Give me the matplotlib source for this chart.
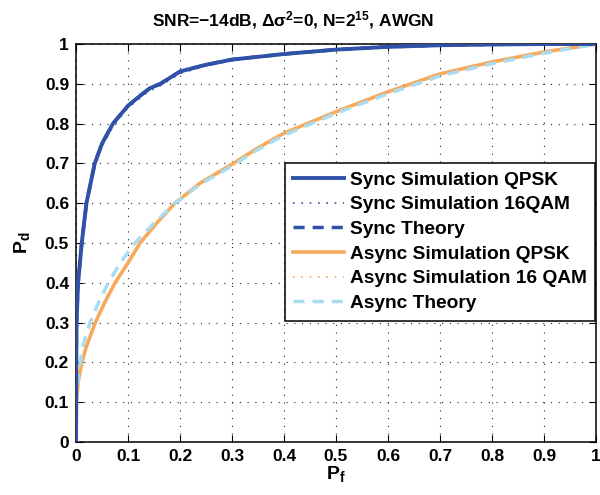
import numpy as np
import matplotlib
matplotlib.use("Agg")
import matplotlib.pyplot as plt
from matplotlib.ticker import FuncFormatter

plt.rcParams['font.family'] = ['Liberation Sans', 'DejaVu Sans']
plt.rcParams['font.weight'] = 'bold'
plt.rcParams['mathtext.fontset'] = 'custom'
plt.rcParams['mathtext.rm'] = 'Liberation Sans:bold'
plt.rcParams['mathtext.bf'] = 'Liberation Sans:bold'
plt.rcParams['mathtext.it'] = 'Liberation Sans:bold'
plt.rcParams['mathtext.default'] = 'bf'

# Sync curves
sync_pf = [0, 0.0005, 0.001, 0.004, 0.011, 0.02, 0.036, 0.05, 0.071, 0.1, 0.125,
           0.142, 0.162, 0.2, 0.25, 0.3, 0.4, 0.5, 0.6, 0.7, 0.8, 0.9, 1.0]
sync_sim_qpsk = [0, 0.2, 0.3, 0.4, 0.5, 0.6, 0.7, 0.75, 0.8, 0.845, 0.872,
                 0.889, 0.9, 0.931, 0.948, 0.961, 0.975, 0.986, 0.993, 0.997, 0.999, 1.0, 1.0]
sync_sim_16qam = [0, 0.19, 0.29, 0.39, 0.49, 0.59, 0.69, 0.742, 0.793, 0.84, 0.866,
                  0.883, 0.895, 0.926, 0.945, 0.958, 0.973, 0.985, 0.992, 0.997, 0.999, 1.0, 1.0]
sync_theory = [0, 0.2, 0.3, 0.4, 0.5, 0.6, 0.7, 0.75, 0.8, 0.845, 0.872,
               0.889, 0.9, 0.931, 0.948, 0.961, 0.975, 0.986, 0.993, 0.997, 0.999, 1.0, 1.0]

# Async curves
async_pf = [0, 0.001, 0.004, 0.011, 0.02, 0.037, 0.055, 0.075, 0.1, 0.123, 0.155,
            0.19, 0.238, 0.3, 0.35, 0.4, 0.5, 0.6, 0.7, 0.8, 0.9, 1.0]
async_sim_qpsk = [0, 0.1, 0.15, 0.2, 0.24, 0.3, 0.35, 0.4, 0.45, 0.5, 0.55,
                  0.6, 0.65, 0.698, 0.739, 0.776, 0.83, 0.88, 0.925, 0.955, 0.98, 1.0]
async_sim_16qam = [0, 0.1, 0.155, 0.205, 0.245, 0.305, 0.355, 0.405, 0.455, 0.503, 0.552,
                   0.6, 0.65, 0.698, 0.739, 0.776, 0.83, 0.88, 0.924, 0.955, 0.98, 1.0]
async_th_pf = [0, 0.001, 0.004, 0.008, 0.015, 0.027, 0.043, 0.062, 0.085, 0.113, 0.15,
               0.19, 0.238, 0.3, 0.35, 0.4, 0.5, 0.6, 0.7, 0.8, 0.9, 1.0]
async_theory = [0, 0.11, 0.16, 0.2, 0.25, 0.3, 0.35, 0.4, 0.45, 0.5, 0.55,
                0.6, 0.647, 0.694, 0.735, 0.771, 0.826, 0.875, 0.92, 0.951, 0.977, 1.0]

xticks = [0, 0.1, 0.2, 0.3, 0.4, 0.5, 0.6, 0.7, 0.8, 0.9, 1]
yticks = [0, 0.1, 0.2, 0.3, 0.4, 0.5, 0.6, 0.7, 0.8, 0.9, 1]

blue = '#2f52a8'
orange = '#f7a95c'
lblue = '#a8dcf0'

fig = plt.figure(figsize=(6, 4.95), dpi=100)
ax = fig.add_axes([0.1267, 0.107, 0.8666, 0.804])

ax.plot(sync_pf, sync_sim_qpsk, color=blue, lw=2.8, label='Sync Simulation QPSK', zorder=5)
ax.plot(sync_pf, sync_sim_16qam, color=blue, lw=1.2, ls=(0, (1, 4)), label='Sync Simulation 16QAM', zorder=4)
ax.plot(sync_pf, sync_theory, color=blue, lw=2.5, ls=(0, (3.2, 2.3)), label='Sync Theory', zorder=6)
ax.plot(async_pf, async_sim_qpsk, color=orange, lw=2.6, label='Async Simulation QPSK', zorder=3)
ax.plot(async_pf, async_sim_16qam, color=orange, lw=1.2, ls=(0, (1, 4)), label='Async Simulation 16 QAM', zorder=3)
ax.plot(async_th_pf, async_theory, color=lblue, lw=2.5, ls=(0, (3.2, 2.3)), label='Async Theory', zorder=3)

ax.set_xlim(0, 1)
ax.set_ylim(0, 1)
ax.set_xticks(xticks)
ax.set_yticks(yticks)
fmt = FuncFormatter(lambda v, p: '%g' % v)
ax.xaxis.set_major_formatter(fmt)
ax.yaxis.set_major_formatter(fmt)
ax.tick_params(direction='in', top=True, right=True, labelsize=12.5, length=5, width=0.8, pad=5)
for lab in ax.get_xticklabels() + ax.get_yticklabels():
    lab.set_fontweight('bold')
ax.grid(True, color='#222222', ls=(0, (1, 6)), lw=0.8)
for s in ax.spines.values():
    s.set_linewidth(1.1)

ax.set_xlabel('P$_{f}$', fontsize=14, fontweight='bold', labelpad=0)
ax.set_ylabel('P$_{d}$', fontsize=14, fontweight='bold', labelpad=9)
ax.set_title('SNR=\u221214dB, \u0394\u03c3$^{2}$=0, N=2$^{15}$, AWGN',
             fontsize=12.5, fontweight='bold', pad=13, x=0.418)

leg = ax.legend(loc='upper right', bbox_to_anchor=(0.999, 0.702), fontsize=13.8,
                frameon=True, fancybox=False, edgecolor='black', framealpha=1,
                handlelength=2.65, borderpad=0.45, labelspacing=0.38, handletextpad=0.3,
                borderaxespad=0)
leg.get_frame().set_linewidth(1.1)
for t in leg.get_texts():
    t.set_fontweight('bold')

fig.savefig('out.png', dpi=100)
